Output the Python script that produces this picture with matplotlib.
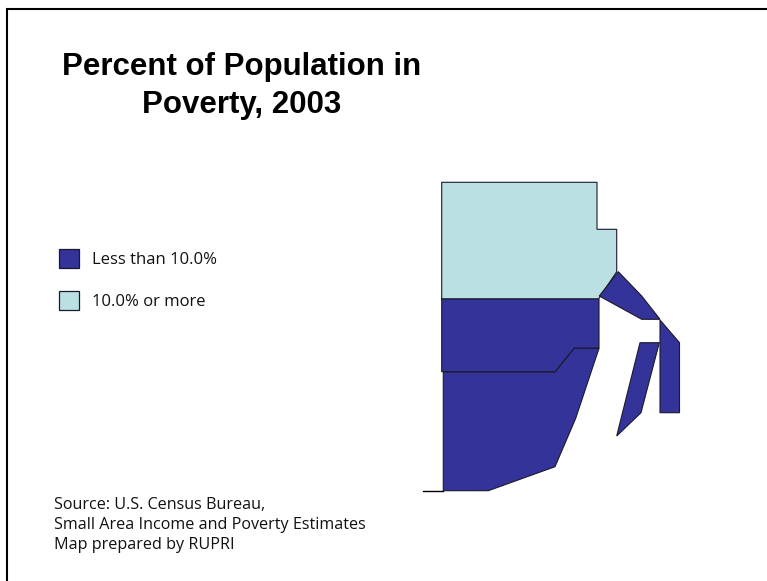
import matplotlib
matplotlib.use("Agg")
import matplotlib.pyplot as plt
from matplotlib.patches import Polygon, Rectangle

DARK = "#333399"
LIGHT = "#BBE0E3"
EDGE = "#1a1a2a"

title_lines = "Percent of Population in\nPoverty, 2003"
legend_labels = ["Less than 10.0%", "10.0% or more"]
legend_colors = [DARK, LIGHT]
source_lines = "Source: U.S. Census Bureau,\nSmall Area Income and Poverty Estimates\nMap prepared by RUPRI"

county_north = [(441.7, 182.3), (597, 182.3), (597, 229.3), (616.7, 229.3), (616.7, 271.7), (598.5, 299), (441.7, 299)]
county_middle = [(441.7, 299), (599, 299), (599, 348.3), (574.3, 348.3), (555, 371.7), (441.7, 371.7)]
county_south = [(443.3, 372), (555, 372), (574.3, 348.3), (599, 348.3), (575.7, 418.3), (555, 466.7), (488.3, 490.7), (443.3, 490.7)]
county_ne = [(618.3, 271.7), (641.7, 296), (660, 319.3), (641.7, 319.3), (599.3, 296)]
county_east = [(660, 320), (679.5, 342.7), (679.5, 412.7), (660, 412.7)]
county_sliver = [(640, 342.7), (659.3, 342.7), (641, 412.7), (616.7, 436)]
counties = [(county_north, LIGHT), (county_middle, DARK), (county_south, DARK),
            (county_ne, DARK), (county_east, DARK), (county_sliver, DARK)]
stub_x = [423.3, 443.3]
stub_y = [490.7, 490.7]

fig = plt.figure(figsize=(7.67, 5.81), dpi=100)
ax = fig.add_axes([0, 0, 1, 1])
ax.set_xlim(0, 767)
ax.set_ylim(581, 0)
ax.axis("off")

ax.plot([7, 7], [581, 9], color="black", lw=1.5, solid_capstyle="butt")
ax.plot([6.3, 767], [9, 9], color="black", lw=1.5, solid_capstyle="butt")

for pts, col in counties:
    ax.add_patch(Polygon(pts, closed=True, facecolor=col, edgecolor=EDGE, lw=0.8, joinstyle="miter"))
ax.plot(stub_x, stub_y, color="black", lw=1.0)

ax.text(241.5, 86, title_lines, ha="center", va="center", family="Liberation Sans",
        fontweight="bold", fontsize=22.5, linespacing=1.32, color="black")

for lab, col, y in zip(legend_labels, legend_colors, [258, 300]):
    ax.add_patch(Rectangle((59, y - 9.5), 19.5, 19.5, facecolor=col, edgecolor=EDGE, lw=0.9))
    ax.text(92, y + 1.5, lab, ha="left", va="center", family="Open Sans", fontsize=12.0, color="#111111")

ax.text(54, 525, source_lines, ha="left", va="center", family="Open Sans", fontsize=11.65,
        linespacing=1.3, color="#111111")

fig.savefig("out.png", dpi=100, facecolor="white")
